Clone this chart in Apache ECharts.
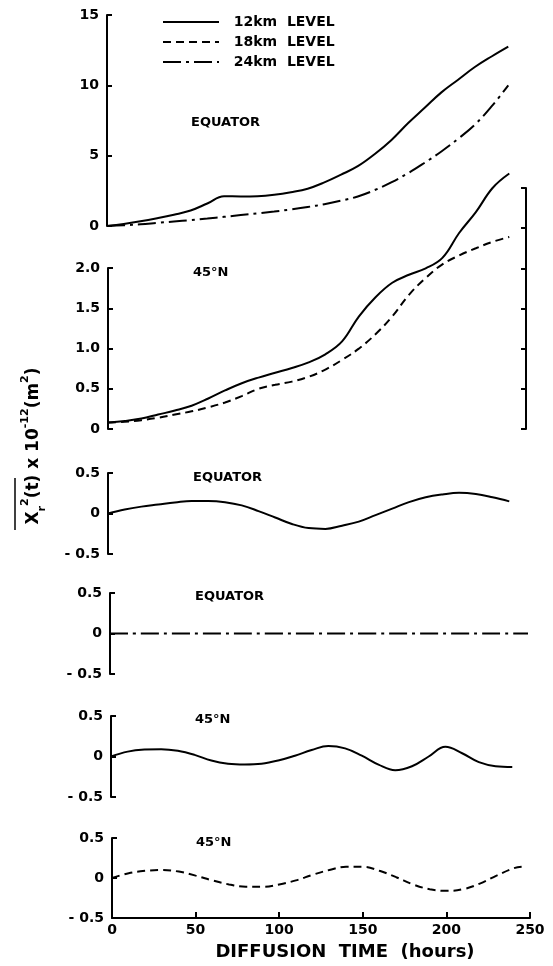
<!DOCTYPE html>
<html>
<head>
<meta charset="utf-8">
<script src="https://cdn.jsdelivr.net/npm/echarts@6/dist/echarts.min.js"></script>
<style>
  html, body { margin: 0; padding: 0; background: #fff; }
  #chart { width: 553px; height: 966px; }
</style>
</head>
<body>
<div id="chart"></div>
<script>
// diffusion time, hours
var hours = [0, 10, 20, 30, 40, 50, 60, 70, 80, 90, 100, 110, 120, 130, 140, 150, 160, 170, 180, 190, 200, 210, 220, 230, 240];

// panel 1 - equator, total
var eq12 = [0, 0.15, 0.33, 0.55, 0.8, 1.1, 1.6, 2.12, 2.1, 2.12, 2.22, 2.4, 2.65, 3.1, 3.65, 4.25, 5.1, 6.1, 7.3, 8.4, 9.5, 10.4, 11.3, 12.05, 12.75];
var eq24 = [0, 0.05, 0.12, 0.22, 0.32, 0.42, 0.53, 0.65, 0.78, 0.9, 1.03, 1.18, 1.35, 1.55, 1.8, 2.1, 2.55, 3.1, 3.75, 4.5, 5.3, 6.2, 7.2, 8.5, 10.0];

// panel 2 - 45N, total
var n45_12 = [0.08, 0.1, 0.13, 0.18, 0.23, 0.29, 0.38, 0.48, 0.57, 0.64, 0.7, 0.76, 0.83, 0.93, 1.09, 1.4, 1.64, 1.82, 1.92, 2.0, 2.13, 2.44, 2.7, 3.0, 3.18];
var n45_18 = [0.08, 0.09, 0.11, 0.14, 0.18, 0.22, 0.27, 0.33, 0.41, 0.5, 0.55, 0.59, 0.65, 0.74, 0.86, 1.0, 1.18, 1.4, 1.67, 1.88, 2.05, 2.16, 2.25, 2.33, 2.39];

// panel 3 - equator, 12 km
var eqB12 = [0, 0.05, 0.085, 0.11, 0.135, 0.155, 0.155, 0.14, 0.1, 0.03, -0.05, -0.13, -0.18, -0.19, -0.15, -0.1, -0.02, 0.06, 0.14, 0.2, 0.235, 0.255, 0.24, 0.2, 0.15];

// panel 4 - equator, 24 km
var eqB24Hours = [0, 250];
var eqB24 = [0, 0];

// panel 5 - 45N, 12 km
var n45B12 = [0, 0.06, 0.085, 0.09, 0.07, 0.02, -0.05, -0.09, -0.1, -0.09, -0.05, 0.01, 0.08, 0.13, 0.1, 0.01, -0.1, -0.17, -0.12, 0.0, 0.12, 0.04, -0.07, -0.12, -0.13];

// panel 6 - 45N, 18 km
var n45B18Hours = [0, 10, 20, 30, 40, 50, 60, 70, 80, 90, 100, 110, 120, 130, 140, 150, 160, 170, 180, 190, 200, 210, 220, 230, 240, 245];
var n45B18 = [0, 0.06, 0.09, 0.1, 0.08, 0.03, -0.03, -0.08, -0.11, -0.11, -0.08, -0.03, 0.04, 0.1, 0.14, 0.14, 0.09, 0.01, -0.08, -0.14, -0.16, -0.14, -0.07, 0.03, 0.12, 0.14];

var xTicks = [0, 50, 100, 150, 200, 250];

var FONT = 'DejaVu Sans';
var SOLID = 'solid';
var DASHED = [8, 5];
var DASHDOT = [18, 5, 3, 5];

function pairs(xs, ys) {
  return xs.map(function (x, i) { return [x, ys[i]]; });
}

function xAx(g, visible) {
  return {
    type: 'value', gridIndex: g, min: 0, max: 250, interval: 50, show: visible,
    axisLine: { show: true, onZero: false, lineStyle: { color: '#000', width: 2 } },
    axisTick: { show: true, inside: true, length: 6, lineStyle: { color: '#000', width: 2 } },
    axisLabel: { color: '#000', fontSize: 14, fontWeight: 'bold', fontFamily: FONT, margin: 5,
      customValues: xTicks },
    splitLine: { show: false }
  };
}

function yAx(g, min, max, interval, fmt, extra) {
  var a = {
    type: 'value', gridIndex: g, min: min, max: max, interval: interval,
    axisLine: { show: true, onZero: false, lineStyle: { color: '#000', width: 2 } },
    axisTick: { show: true, inside: true, length: 5, lineStyle: { color: '#000', width: 2 } },
    axisLabel: { color: '#000', fontSize: 14, fontWeight: 'bold', fontFamily: FONT, margin: 8, formatter: fmt },
    splitLine: { show: false }
  };
  return Object.assign(a, extra || {});
}

function line(name, g, data, type) {
  return {
    name: name, type: 'line', xAxisIndex: g, yAxisIndex: g, data: data,
    smooth: 0.4, symbol: 'none', silent: true, clip: false,
    itemStyle: { color: '#000' },
    lineStyle: { color: '#000', width: 2, type: type }
  };
}

function fmtHalf(v) { return v === 0 ? '0' : v.toFixed(1); }
function fmtInt(v) { return v < 0 ? '- ' + String(-v) : String(v); }

function label(text, x, y) {
  return {
    type: 'text', left: x, top: y,
    style: { text: text, fill: '#000', fontSize: 13, fontWeight: 'bold', fontFamily: FONT }
  };
}

var chart = echarts.init(document.getElementById('chart'));
chart.setOption({
  backgroundColor: '#fff',
  animation: false,
  legend: {
    data: ['12km LEVEL', '18km LEVEL', '24km LEVEL'],
    orient: 'vertical', left: 157, top: 10,
    itemWidth: 56, itemHeight: 14, itemGap: 6,
    itemStyle: { opacity: 0 },
    formatter: function (name) { return '  ' + name.replace(' ', '  '); },
    textStyle: { color: '#000', fontSize: 14, fontWeight: 'bold', fontFamily: FONT }
  },
  grid: [
    { left: 107, top: 15, width: 418, height: 211 },
    { left: 108, top: 188, width: 418, height: 241 },
    { left: 108, top: 268, width: 418, height: 161 },
    { left: 108, top: 473, width: 418, height: 81 },
    { left: 110, top: 593, width: 418, height: 81 },
    { left: 111, top: 716, width: 418, height: 81 },
    { left: 112, top: 838, width: 418, height: 80 }
  ],
  xAxis: [xAx(0, false), xAx(1, false), xAx(2, false), xAx(3, false), xAx(4, false), xAx(5, false), xAx(6, true)],
  yAxis: [
    yAx(0, 0, 15, 5, fmtInt),
    yAx(1, 0, 3, 0.5, fmtHalf, { position: 'right', axisLabel: { show: false } }),
    yAx(2, 0, 2, 0.5, fmtHalf),
    yAx(3, -0.5, 0.5, 0.5, fmtInt),
    yAx(4, -0.5, 0.5, 0.5, fmtInt),
    yAx(5, -0.5, 0.5, 0.5, fmtInt),
    yAx(6, -0.5, 0.5, 0.5, fmtInt)
  ],
  series: [
    line('12km LEVEL', 0, pairs(hours, eq12), SOLID),
    line('18km LEVEL', 1, pairs(hours, n45_18), DASHED),
    line('24km LEVEL', 0, pairs(hours, eq24), DASHDOT),
    line('12km LEVEL', 1, pairs(hours, n45_12), SOLID),
    line('12km LEVEL', 3, pairs(hours, eqB12), SOLID),
    line('24km LEVEL', 4, pairs(eqB24Hours, eqB24), DASHDOT),
    line('12km LEVEL', 5, pairs(hours, n45B12), SOLID),
    line('18km LEVEL', 6, pairs(n45B18Hours, n45B18), DASHED)
  ],
  graphic: [
    label('EQUATOR', 191, 116),
    label('45°N', 193, 266),
    label('EQUATOR', 193, 471),
    label('EQUATOR', 195, 590),
    label('45°N', 195, 713),
    label('45°N', 196, 836),
    {
      type: 'text', x: 345, y: 952,
      style: {
        text: 'DIFFUSION  TIME  (hours)', align: 'center', verticalAlign: 'middle',
        fill: '#000', fontSize: 18, fontWeight: 'bold', fontFamily: FONT
      }
    },
    {
      type: 'text', x: 34, y: 446, rotation: Math.PI / 2,
      style: {
        text: '{b|X}{s|r}{p|2}{b|(t) x 10}{p|-12}{b|(m}{p|2}{b|)}',
        align: 'center', verticalAlign: 'middle', fill: '#000',
        rich: {
          b: { fontSize: 17, fontWeight: 'bold', fontFamily: FONT, lineHeight: 28, verticalAlign: 'middle' },
          s: { fontSize: 11, fontWeight: 'bold', fontFamily: FONT, lineHeight: 28, verticalAlign: 'bottom' },
          p: { fontSize: 11, fontWeight: 'bold', fontFamily: FONT, lineHeight: 28, verticalAlign: 'top' }
        }
      }
    },
    {
      type: 'line', shape: { x1: 15, y1: 478, x2: 15, y2: 530 },
      style: { stroke: '#000', lineWidth: 1.5 }
    }
  ]
});
</script>
</body>
</html>
